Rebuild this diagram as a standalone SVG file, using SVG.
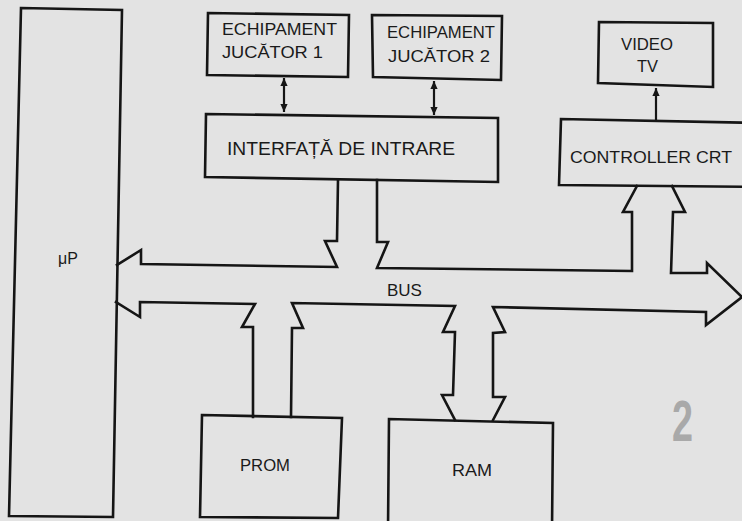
<svg xmlns="http://www.w3.org/2000/svg" width="742" height="521" viewBox="0 0 742 521">
<defs>
<style>
.bx{fill:none;stroke:#151515;stroke-width:2.6;stroke-linejoin:miter}
.ln{fill:none;stroke:#151515;stroke-width:2.6;stroke-linejoin:miter;stroke-linecap:square}
.thin{fill:none;stroke:#151515;stroke-width:2.2}
.t{font-family:"Liberation Sans",Arial,sans-serif;fill:#1a1a1a}
</style>
<marker id="ah" viewBox="0 0 10 10" refX="10" refY="5" markerUnits="userSpaceOnUse" markerWidth="10" markerHeight="8" orient="auto-start-reverse">
<path d="M0,0.5 L10,5 L0,9.5 z" fill="#151515"/>
</marker>
</defs>
<rect width="742" height="521" fill="#e3e3e3"/>

<g id="mp">
<polygon class="bx" points="21,8 122,10 113,517 9,516"/>
<text class="t" x="58" y="264" font-size="16">μP</text>
</g>

<g id="player1">
<polygon class="bx" points="208,13 349,15 348,77 207,75"/>
<text class="t" x="222" y="35" font-size="16" textLength="115" lengthAdjust="spacingAndGlyphs">ECHIPAMENT</text>
<text class="t" x="222" y="58" font-size="16" textLength="101" lengthAdjust="spacingAndGlyphs">JUCĂTOR 1</text>
</g>

<g id="player2">
<polygon class="bx" points="372,15 502,16 501,80 373,77"/>
<text class="t" x="387" y="38" font-size="16" textLength="108" lengthAdjust="spacingAndGlyphs">ECHIPAMENT</text>
<text class="t" x="388" y="62" font-size="16" textLength="102" lengthAdjust="spacingAndGlyphs">JUCĂTOR 2</text>
</g>

<g id="interface">
<polygon class="bx" points="206,114 498,118 498,182 205,177"/>
<text class="t" x="227" y="155" font-size="19" textLength="228" lengthAdjust="spacingAndGlyphs">INTERFAȚĂ DE INTRARE</text>
</g>

<g id="video">
<polygon class="bx" points="599,22 713,23 713,87 598,83"/>
<text class="t" x="621" y="50" font-size="16" textLength="52" lengthAdjust="spacingAndGlyphs">VIDEO</text>
<text class="t" x="637" y="72" font-size="16" textLength="21" lengthAdjust="spacingAndGlyphs">TV</text>
</g>

<g id="controller">
<polyline class="bx" points="760,123 561,119 559,185 760,187"/>
<text class="t" x="570" y="163" font-size="17" textLength="162" lengthAdjust="spacingAndGlyphs">CONTROLLER CRT</text>
</g>

<g id="prom">
<polygon class="bx" points="202,415 342,418 338,518 200,517"/>
<text class="t" x="240" y="471" font-size="16.5" textLength="50" lengthAdjust="spacingAndGlyphs">PROM</text>
</g>

<g id="ram">
<polyline class="bx" points="388,530 389,419 553,423 552,530"/>
<text class="t" x="452" y="476" font-size="16.5" textLength="40" lengthAdjust="spacingAndGlyphs">RAM</text>
</g>

<g id="connectors">
<line class="thin" x1="284" y1="78" x2="284" y2="112" marker-start="url(#ah)" marker-end="url(#ah)"/>
<line class="thin" x1="434" y1="81" x2="434" y2="115" marker-start="url(#ah)" marker-end="url(#ah)"/>
<line class="thin" x1="656" y1="120" x2="656" y2="88" marker-end="url(#ah)"/>
<g id="bus">
<polyline class="ln" points="338,180 337,241 325,241 337,267 141,264 141,250 117,265"/>
<polyline class="ln" points="116,302 140,317 140,302 255,304 242,327 253,327 253,417"/>
<polyline class="ln" points="291,417 292,328 303,328 292,303 455,306 443,332 455,332 453,395 442,395 455,420"/>
<polyline class="ln" points="493,420 505,397 493,397 493,333 505,332 493,307 706,312 706,325 742,297 707,263 707,273 671,273 673,212 685,212 672,186"/>
<polyline class="ln" points="637,186 623,212 632,212 632,271 377,268 388,242 377,242 377,180"/>
<text class="t" x="387" y="296" font-size="17">BUS</text>
</g>
</g>

<text x="672" y="441" font-family="Liberation Sans,Arial,sans-serif" font-weight="bold" font-size="58" fill="#a9a9a9" textLength="21" lengthAdjust="spacingAndGlyphs">2</text>
</svg>
